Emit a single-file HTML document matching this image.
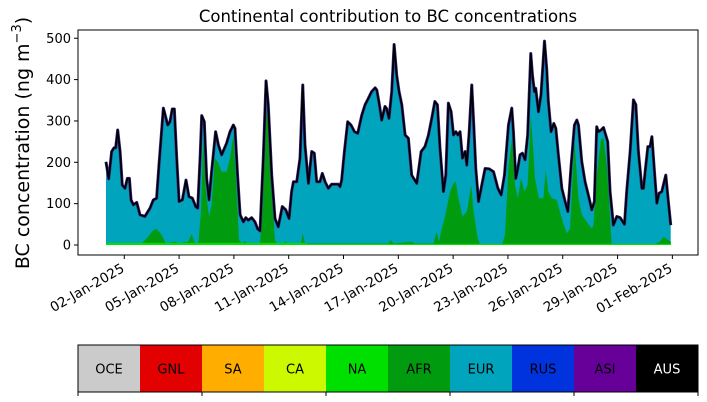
<!DOCTYPE html>
<html><head><meta charset="utf-8"><style>
html,body{margin:0;padding:0;background:#fff;}
svg{display:block;font-family:"DejaVu Sans","Liberation Sans",sans-serif;}
</style></head><body>
<svg id="chart" width="707" height="402" viewBox="0 0 707 402">
<text x="388" y="22" font-size="16.5" text-anchor="middle">Continental contribution to BC concentrations</text>
<text transform="translate(29,143) rotate(-90)" font-size="19" text-anchor="middle">BC concentration (ng m<tspan dy="-8" font-size="13">−3</tspan><tspan dy="8">)</tspan></text>
<g id="plot"></g>
<g id="legend"></g>
</svg>
<script>
// total concentration (black line): day offset from 01-Jan-2025, value ng m-3
const totalDays=[0,0.15,0.31,0.44,0.53,0.64,0.77,0.89,1.04,1.17,1.28,1.37,1.5,1.68,1.86,2.13,2.41,2.59,2.77,2.9,3.14,3.38,3.5,3.63,3.74,3.87,4.0,4.18,4.38,4.54,4.73,4.91,5.02,5.15,5.24,5.38,5.51,5.64,5.78,6.0,6.15,6.33,6.6,6.79,6.97,7.06,7.2,7.34,7.52,7.65,7.79,7.97,8.15,8.3,8.43,8.61,8.76,8.88,9.07,9.25,9.43,9.65,9.84,10.02,10.16,10.26,10.44,10.62,10.77,10.89,11.08,11.26,11.4,11.53,11.71,11.84,11.99,12.17,12.35,12.54,12.72,12.81,12.9,13.05,13.23,13.41,13.6,13.78,14.0,14.18,14.32,14.54,14.73,14.82,14.95,15.09,15.27,15.36,15.49,15.64,15.77,15.91,16.04,16.19,16.37,16.55,16.73,17.01,17.25,17.46,17.65,17.83,18.0,18.14,18.28,18.47,18.6,18.74,18.89,19.02,19.15,19.26,19.38,19.51,19.66,19.75,19.88,20.02,20.12,20.24,20.39,20.57,20.75,20.97,21.21,21.45,21.63,21.81,22.03,22.21,22.3,22.43,22.54,22.66,22.79,22.94,23.08,23.25,23.34,23.45,23.52,23.67,23.81,24.0,24.12,24.21,24.36,24.51,24.62,24.76,24.95,25.13,25.28,25.46,25.64,25.77,25.86,26.04,26.22,26.4,26.59,26.73,26.86,26.95,27.1,27.23,27.46,27.59,27.77,27.96,28.14,28.38,28.5,28.69,28.87,29.0,29.14,29.33,29.42,29.51,29.66,29.78,29.88,30.02,30.15,30.27,30.42,30.64,30.78,30.91];
const totalVals=[201,160,226,235,235,278,226,145,137,161,161,109,97,103,73,69,89,109,113,193,331,290,298,329,329,210,105,109,157,117,113,93,89,210,313,298,161,109,177,274,242,218,246,274,290,282,169,73,56,66,60,66,56,39,34,210,397,339,169,64,44,93,85,64,129,153,153,210,387,242,149,226,222,153,153,173,153,137,147,147,147,141,157,226,298,290,274,270,314,339,351,371,380,375,343,302,335,330,306,371,485,411,371,339,266,258,169,149,226,238,266,306,347,339,234,129,169,343,322,266,274,266,274,210,226,193,274,387,298,185,105,145,185,184,177,137,121,169,290,331,274,161,185,218,222,206,266,463,411,371,379,322,363,493,427,347,274,294,282,218,137,105,81,193,290,302,290,202,153,121,85,105,286,274,278,284,250,129,48,69,66,50,129,226,351,339,226,137,137,177,238,238,262,177,101,125,129,169,105,48];
// AFR contribution
const afrDays=[0,1.95,2.23,2.59,2.77,3.05,3.27,3.78,3.96,4.5,4.69,4.87,5.05,5.2,5.32,5.47,5.64,5.78,5.96,6.15,6.33,6.6,6.79,6.97,7.12,7.28,7.43,7.61,7.7,8.43,8.56,8.76,8.88,9.07,9.25,9.34,9.71,9.8,9.98,10.68,10.77,10.89,15.45,15.6,15.73,16.73,16.91,17.92,18.1,18.23,18.38,18.56,18.83,19.02,19.15,19.29,19.51,19.75,19.99,20.12,20.35,20.48,21.66,21.84,22.03,22.25,22.39,22.54,22.72,22.9,23.08,23.26,23.48,23.7,23.94,24.07,24.21,24.4,24.67,24.95,25.22,25.4,25.64,25.86,26.04,26.31,26.59,26.68,26.86,27.1,27.23,27.41,27.68,29.88,30.33,30.51,30.91];
const afrVals=[4,4,16,36,39,24,4,8,4,8,26,4,4,81,254,129,69,97,210,198,177,177,210,266,153,12,4,10,4,4,81,339,290,129,12,4,4,8,4,4,28,4,4,12,4,8,4,4,32,8,40,69,129,149,153,113,69,81,145,81,16,0,0,24,193,266,145,113,161,129,145,314,161,113,113,181,129,113,109,64,28,40,250,113,73,56,40,48,169,258,258,193,0,0,8,20,8];
// NA contribution (thin bottom band)
const naDays=[0,10.9,11,30.9];
const naVals=[5,5,3,3];
const yTicks=[0,100,200,300,400,500];
const xTickDays=[1,4,7,10,13,16,19,22,25,28,31];
const xTickLabels=["02-Jan-2025","05-Jan-2025","08-Jan-2025","11-Jan-2025","14-Jan-2025","17-Jan-2025","20-Jan-2025","23-Jan-2025","26-Jan-2025","29-Jan-2025","01-Feb-2025"];
const regions=["OCE","GNL","SA","CA","NA","AFR","EUR","RUS","ASI","AUS"];
const regionColors=["#cbcbcb","#e30000","#ffae00","#ccf800","#00e000","#009b0e","#00a5bd","#0033dd","#660099","#000000"];

const NS="http://www.w3.org/2000/svg";
const L=78,R=698,T=30,B=255;
const X=d=>106+d*18.27;
const Y=v=>245-v*0.4135;
function mk(tag,attrs,parent){const e=document.createElementNS(NS,tag);for(const k in attrs)e.setAttribute(k,attrs[k]);parent.appendChild(e);return e;}
const plot=document.getElementById('plot');
function area(days,vals){let d='M'+X(days[0])+','+Y(0);for(let i=0;i<days.length;i++)d+='L'+X(days[i])+','+Y(vals[i]);d+='L'+X(days[days.length-1])+','+Y(0)+'Z';return d;}
function line(days,vals){let d='';for(let i=0;i<days.length;i++)d+=(i?'L':'M')+X(days[i])+','+Y(vals[i]);return d;}

let e=mk('path',{d:area(totalDays,totalVals),fill:regionColors[6]},plot);


e=mk('path',{d:area(afrDays,afrVals),fill:regionColors[5]},plot);


e=mk('path',{d:area(naDays,naVals),fill:regionColors[4]},plot);


e=mk('path',{d:line(totalDays,totalVals),fill:'none',stroke:'#3a2a8a','stroke-width':3,'stroke-linejoin':'round'},plot);


e=mk('path',{d:line(totalDays,totalVals),fill:'none',stroke:'#000','stroke-width':1.8,'stroke-linejoin':'round'},plot);


e=mk('rect',{x:L,y:T,width:R-L,height:B-T,fill:'none',stroke:'#000','stroke-width':1},plot);


yTicks.forEach(v=>{
  const t=mk('line',{x1:L-4,x2:L,y1:Y(v),y2:Y(v),stroke:'#000'},plot);
  
  
  const l=mk('text',{x:L-7,y:Y(v)+4.5,'font-size':13,'text-anchor':'end'},plot);
  l.textContent=v;
  
  
});
xTickDays.forEach((d,i)=>{
  const t=mk('line',{x1:X(d),x2:X(d),y1:B,y2:B+4,stroke:'#000'},plot);
  
  
  const l=mk('text',{transform:'translate('+(X(d)+1)+','+(B+16)+') rotate(-30)','font-size':13.5,'text-anchor':'end'},plot);
  l.textContent=xTickLabels[i];
  
  
});
const leg=document.getElementById('legend');
const cw=62,ly=345,lh=47;
regions.forEach((r,i)=>{
  const c=mk('rect',{x:L+i*cw,y:ly,width:cw,height:lh,fill:regionColors[i]},leg);
  
  
  const t=mk('text',{x:L+i*cw+cw/2,y:ly+lh/2+5,'font-size':13,'text-anchor':'middle',fill:r==='AUS'?'#fff':'#000'},leg);
  t.textContent=r;
  
  
});
e=mk('rect',{x:L,y:ly,width:cw*10,height:lh,fill:'none',stroke:'#000'},leg);


for(let i=0;i<=10;i+=2){
  const t=mk('line',{x1:L+i*cw,x2:L+i*cw,y1:ly+lh,y2:ly+lh+4,stroke:'#000'},leg);
  
  
}
</script>
</body></html>
